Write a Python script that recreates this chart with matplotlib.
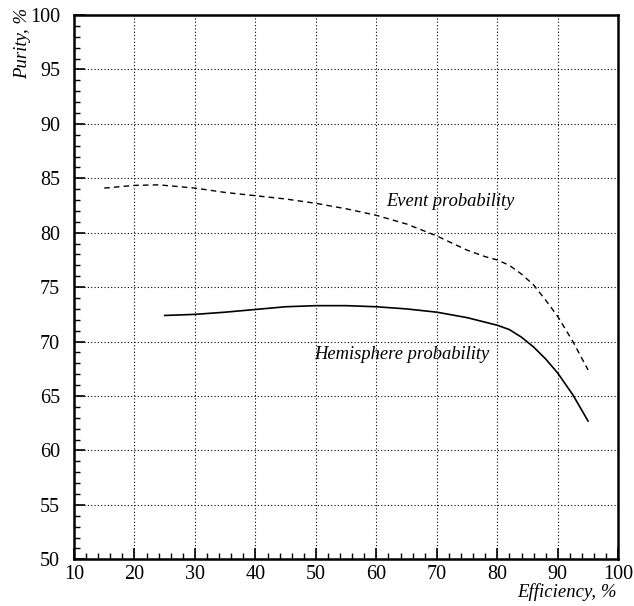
import matplotlib
matplotlib.use("Agg")
import matplotlib.pyplot as plt
from matplotlib.ticker import MultipleLocator

plt.rcParams["font.family"] = ["Liberation Serif", "DejaVu Serif"]

# 数据
event_eff    = [15, 20, 24, 30, 35, 40, 45, 50, 55, 60, 65, 70, 75, 78, 80, 82, 84, 86, 88, 90, 92.5, 95]
event_pur    = [84.1, 84.35, 84.4, 84.1, 83.7, 83.4, 83.1, 82.7, 82.2, 81.6, 80.8, 79.7, 78.4, 77.8, 77.5, 77.0, 76.2, 75.2, 73.8, 72.3, 70.0, 67.4]
hemi_eff     = [25, 30, 35, 40, 45, 50, 55, 60, 65, 70, 75, 80, 82, 84, 86, 88, 90, 92.5, 95]
hemi_pur     = [72.4, 72.5, 72.7, 72.95, 73.2, 73.3, 73.3, 73.2, 73.0, 72.7, 72.2, 71.5, 71.1, 70.4, 69.5, 68.4, 67.1, 65.1, 62.7]

fig = plt.figure(figsize=(6.34, 6.06), dpi=100)
ax = fig.add_axes([0.1167, 0.0771, 0.8585, 0.8981])

ax.plot(event_eff, event_pur, color="black", lw=1.0, linestyle=(0, (4, 3)))
ax.plot(hemi_eff, hemi_pur, color="black", lw=1.2)

ax.text(61.7, 82.9, "Event probability", fontsize=13.3, style="italic", va="center", ha="left")
ax.text(49.7, 68.8, "Hemisphere probability", fontsize=13.3, style="italic", va="center", ha="left")

ax.set_xlim(10, 100)
ax.set_ylim(50, 100)
ax.xaxis.set_major_locator(MultipleLocator(10))
ax.xaxis.set_minor_locator(MultipleLocator(2))
ax.yaxis.set_major_locator(MultipleLocator(5))
ax.yaxis.set_minor_locator(MultipleLocator(1))
ax.tick_params(which="both", direction="in", labelsize=14.5, color="black")
ax.tick_params(which="major", length=8, width=1.2)
ax.tick_params(which="minor", length=4.5, width=1.0)
ax.tick_params(axis="x", which="major", pad=4)
ax.tick_params(axis="y", which="major", pad=10)
ax.grid(which="major", color="black", linestyle=(0, (1, 2)), lw=0.8)
for s in ax.spines.values():
    s.set_linewidth(1.8)

fig.text(617 / 634, 1 - 592 / 606, "Efficiency, %", fontsize=13.5, style="italic",
         ha="right", va="center")
fig.text(23 / 634, 1 - 8 / 606, "Purity, %", fontsize=13.5, style="italic",
         rotation=90, ha="center", va="top")

fig.savefig("out.png", dpi=100)
